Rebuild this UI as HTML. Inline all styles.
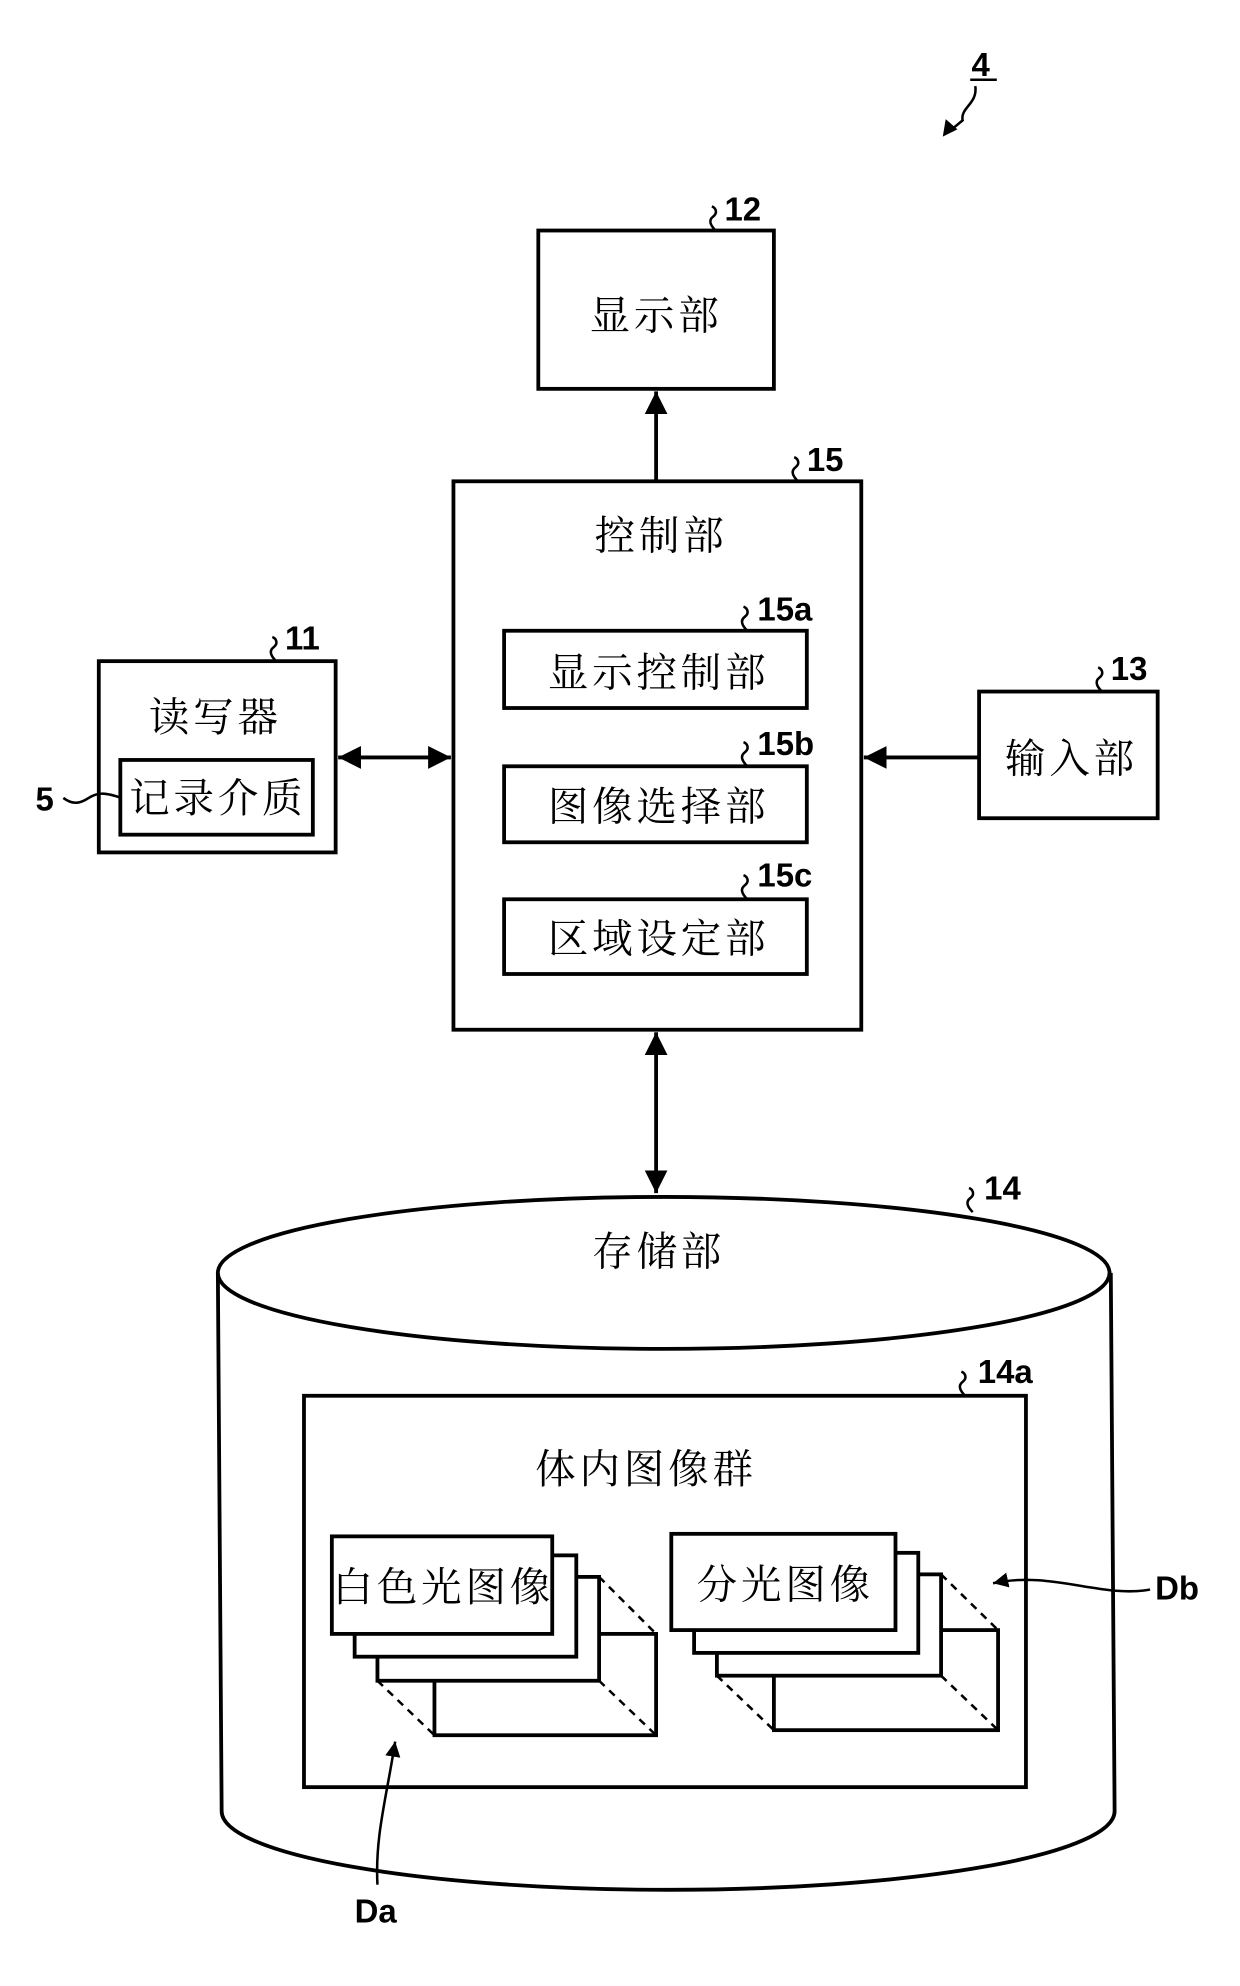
<!DOCTYPE html>
<html><head><meta charset="utf-8"><style>
html,body{margin:0;padding:0;background:#fff;}
svg{display:block;}
.t{font-family:"Liberation Serif","Noto Serif CJK SC","Noto Sans CJK SC",serif;font-size:32px;letter-spacing:3px;fill:#000;text-anchor:middle;}
.n{font-family:"Liberation Sans",sans-serif;font-weight:bold;font-size:26px;fill:#000;}
</style></head><body>
<svg width="1240" height="1986" viewBox="0 0 979 1568" preserveAspectRatio="none" xmlns="http://www.w3.org/2000/svg">
<defs>
<marker id="a" viewBox="0 0 10 10" refX="10" refY="5" markerWidth="6" markerHeight="6" orient="auto-start-reverse"><path d="M0,0 L10,5 L0,10 z" fill="#000"/></marker>
</defs>
<g fill="none" stroke="#000" stroke-width="3">
<path d="M770,68 C772,82 758,85 760,95 L748,105" stroke-width="2"/>
<path d="M745,107 l2,-12 l8,7 z" fill="#000" stroke-width="1"/>
<line x1="766" y1="63" x2="787" y2="63" stroke-width="2"/>
<rect x="425" y="182" width="186" height="125"/>
<path d="M518,380 L518,309" marker-end="url(#a)"/>
<rect x="358" y="380" width="322" height="433"/>
<rect x="398" y="498" width="239" height="61"/>
<rect x="398" y="605" width="239" height="60"/>
<rect x="398" y="710" width="239" height="59"/>
<rect x="78" y="522" width="187" height="151"/>
<rect x="95" y="600" width="152" height="59"/>
<path d="M267,598 L356,598" marker-start="url(#a)" marker-end="url(#a)"/>
<rect x="773" y="546" width="141" height="100"/>
<path d="M773,598 L682,598" marker-end="url(#a)"/>
<path d="M518,815 L518,942" marker-start="url(#a)" marker-end="url(#a)"/>
<path d="M172,1005 L175,1430 A352,62 0 0 0 880,1430 L877,1005"/>
<ellipse cx="524" cy="1005" rx="352" ry="60" fill="#fff"/>
<rect x="240" y="1102" width="570" height="309"/>
<rect x="343" y="1290" width="175" height="80"/>
<path d="M473,1245 L518,1290 M298,1327 L343,1370 M473,1327 L518,1370" stroke-dasharray="6,5" stroke-width="2"/>
<rect x="298" y="1245" width="175" height="82" fill="#fff"/>
<rect x="280" y="1228" width="175" height="80" fill="#fff"/>
<rect x="262" y="1213" width="174" height="77" fill="#fff"/>
<rect x="611" y="1287" width="177" height="79"/>
<path d="M743,1243 L788,1287 M566,1323 L611,1366 M743,1323 L788,1366" stroke-dasharray="6,5" stroke-width="2"/>
<rect x="566" y="1243" width="177" height="80" fill="#fff"/>
<rect x="548" y="1226" width="177" height="79" fill="#fff"/>
<rect x="530" y="1211" width="177" height="76" fill="#fff"/>
<path d="M908,1255 C870,1262 830,1240 784,1250" stroke-width="2" marker-end="url(#a)"/>
<path d="M298,1488 C296,1450 305,1420 312,1375" stroke-width="2" marker-end="url(#a)"/>
<g stroke-width="2">
<path d="M565,182 c-4,-4 -6,-8 -2,-11 c4,-3 2,-7 -1,-8"/>
<path d="M630,380 c-4,-4 -6,-8 -2,-11 c4,-3 2,-7 -1,-8"/>
<path d="M590,498 c-4,-4 -6,-8 -2,-11 c4,-3 2,-7 -1,-8"/>
<path d="M590,605 c-4,-4 -6,-8 -2,-11 c4,-3 2,-7 -1,-8"/>
<path d="M590,710 c-4,-4 -6,-8 -2,-11 c4,-3 2,-7 -1,-8"/>
<path d="M218,522 c-4,-4 -6,-8 -2,-11 c4,-3 2,-7 -1,-8"/>
<path d="M870,546 c-4,-4 -6,-8 -2,-11 c4,-3 2,-7 -1,-8"/>
<path d="M768,957 c-4,-4 -6,-8 -2,-11 c4,-3 2,-7 -1,-8"/>
<path d="M762,1102 c-4,-4 -6,-8 -2,-11 c4,-3 2,-7 -1,-8"/>
<path d="M50,630 c8,6 14,4 20,0 c8,-5 14,-4 26,0"/>
</g>
</g>
<text class="n" x="767" y="60">4</text>
<text class="n" x="572" y="174">12</text>
<text class="n" x="637" y="372">15</text>
<text class="n" x="598" y="490">15a</text>
<text class="n" x="598" y="596">15b</text>
<text class="n" x="598" y="700">15c</text>
<text class="n" x="225" y="513">11</text>
<text class="n" x="877" y="537">13</text>
<text class="n" x="28" y="640">5</text>
<text class="n" x="777" y="947">14</text>
<text class="n" x="772" y="1092">14a</text>
<text class="n" x="912" y="1263">Db</text>
<text class="n" x="280" y="1518">Da</text>
<text class="t" x="518" y="260">显示部</text>
<text class="t" x="522" y="434">控制部</text>
<text class="t" x="520" y="542">显示控制部</text>
<text class="t" x="520" y="648">图像选择部</text>
<text class="t" x="520" y="752">区域设定部</text>
<text class="t" x="170" y="577">读写器</text>
<text class="t" x="172" y="641">记录介质</text>
<text class="t" x="846" y="610">输入部</text>
<text class="t" x="520" y="999">存储部</text>
<text class="t" x="510" y="1171">体内图像群</text>
<text class="t" x="350" y="1264">白色光图像</text>
<text class="t" x="620" y="1262">分光图像</text>
</svg>
</body></html>
